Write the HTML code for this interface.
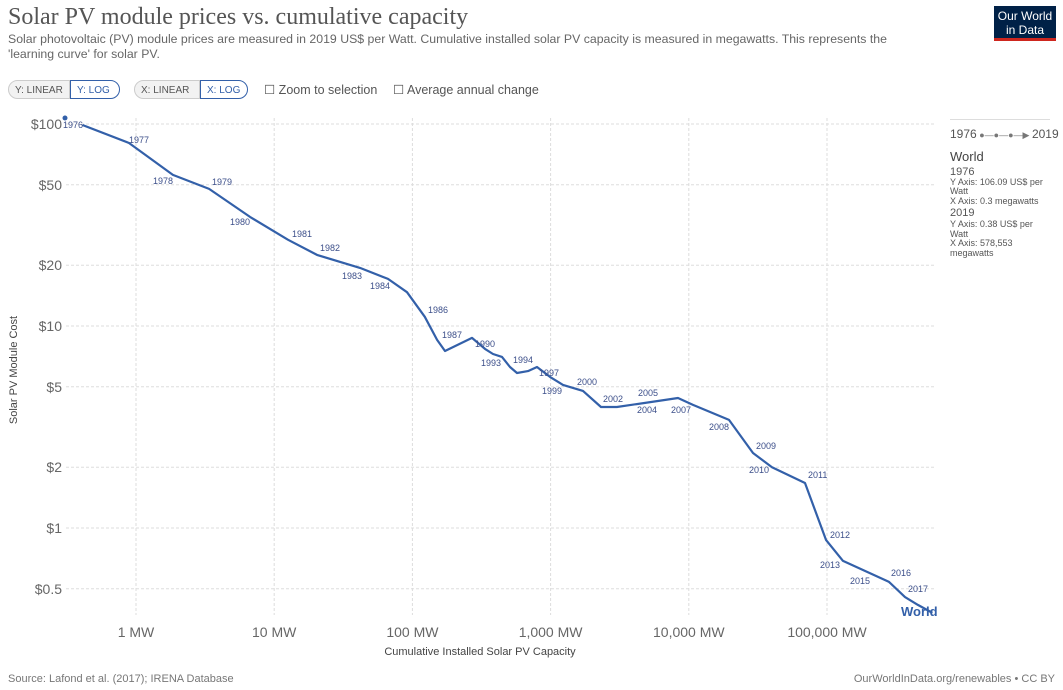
<!DOCTYPE html>
<html><head><meta charset="utf-8"><style>
body{margin:0;width:1063px;height:690px;background:#fff;font-family:"Liberation Sans",sans-serif;position:relative;overflow:hidden}
.a{position:absolute;white-space:nowrap}
.btn{position:absolute;top:80px;height:19px;border:1px solid #ccc;font-size:10px;line-height:19px;color:#555;padding:0 6px;box-sizing:border-box}
.on{border-color:#3360a9;color:#3360a9;background:#fff}
</style></head><body>
<div class="a" style="left:8px;top:4px;font-family:'Liberation Serif',serif;font-size:24px;color:#555">Solar PV module prices vs. cumulative capacity</div>
<div class="a" style="left:8px;top:32px;font-size:12.3px;color:#666;line-height:15px;white-space:normal;width:900px">Solar photovoltaic (PV) module prices are measured in 2019 US$ per Watt. Cumulative installed solar PV capacity is measured in megawatts. This represents the 'learning curve' for solar PV.</div>
<div class="a" style="left:994px;top:6px;width:62px;height:35px;background:#002147;border-bottom:3px solid #ce261e;color:#fff;font-size:12px;text-align:center;line-height:14px;padding-top:3px;box-sizing:border-box">Our World<br>in Data</div>
<div class="btn" style="left:8px;width:62px;border-radius:10px 0 0 10px;background:#f2f2f2">Y: LINEAR</div>
<div class="btn on" style="left:70px;width:50px;border-radius:0 10px 10px 0">Y: LOG</div>
<div class="btn" style="left:134px;width:66px;border-radius:10px 0 0 10px;background:#f2f2f2">X: LINEAR</div>
<div class="btn on" style="left:200px;width:48px;border-radius:0 10px 10px 0">X: LOG</div>
<div class="a" style="left:264px;top:82px;font-size:12.5px;color:#555">☐ Zoom to selection</div>
<div class="a" style="left:393px;top:82px;font-size:12.5px;color:#555">☐ Average annual change</div>
<svg id="c" class="a" style="left:0;top:0" width="1063" height="690"></svg>
<div class="a" style="left:950px;top:119px;width:100px;border-top:1px solid #ddd"></div>
<div class="a" style="left:950px;top:127px;font-size:12px;color:#555">1976<span style="color:#777;font-size:9px"> ●—●—●—▶ </span>2019</div>
<div class="a" style="left:950px;top:149px;font-size:13px;color:#444">World</div>
<div class="a" style="left:950px;top:168px;font-size:9px;color:#555;line-height:9.5px"><span style="font-size:11px">1976</span><br>Y Axis: 106.09 US$ per<br>Watt<br>X Axis: 0.3 megawatts<br><span style="font-size:11px;line-height:14px">2019</span><br>Y Axis: 0.38 US$ per<br>Watt<br>X Axis: 578,553<br>megawatts</div>
<div class="a" style="left:8px;top:673px;font-size:11px;color:#777">Source: Lafond et al. (2017); IRENA Database</div>
<div class="a" style="right:8px;top:673px;font-size:11px;color:#777">OurWorldInData.org/renewables • CC BY</div>
<script>
const capacityMW=[0.41,0.89,1.85,3.38,6.68,12.6,20.4,41.8,66.6,91.4,123,151,172,270,335,383,445,508,571,686,797,990,1230,1715,2315,3020,5890,8350,10720,19540,29150,40000,69300,98400,130600,281000,366700,455000,578553];
const priceUSD=[98.9,80.5,56.0,47.7,34.7,26.7,22.5,19.4,17.1,14.7,11.1,8.53,7.52,8.73,7.70,7.27,7.03,6.27,5.85,5.98,6.27,5.60,5.11,4.77,3.97,3.97,4.25,4.40,4.07,3.43,2.35,2.00,1.67,0.873,0.687,0.541,0.455,0.416,0.38];
const yTicks=[100,50,20,10,5,2,1,0.5];
const yTickLabels=["$100","$50","$20","$10","$5","$2","$1","$0.5"];
const xTicks=[1,10,100,1000,10000,100000];
const xTickLabels=["1 MW","10 MW","100 MW","1,000 MW","10,000 MW","100,000 MW"];
const yearLabels=[["1976",63,128],["1977",129,143],["1978",153,184],["1979",212,185],["1980",230,225],["1981",292,237],["1982",320,251],["1983",342,279],["1984",370,289],["1986",428,313],["1987",442,338],["1990",475,347],["1993",481,366],["1994",513,363],["1997",539,376],["1999",542,394],["2000",577,385],["2002",603,402],["2005",638,396],["2004",637,413],["2007",671,413],["2008",709,430],["2009",756,449],["2010",749,473],["2011",808,478],["2012",830,538],["2013",820,568],["2015",850,584],["2016",891,576],["2017",908,592]];
const X=v=>136+138.2*Math.log10(v);
const Y=v=>326-202*Math.log10(v/10);
const svg=document.getElementById('c');const NS='http://www.w3.org/2000/svg';
function mk(t,a,txt){const e=document.createElementNS(NS,t);for(const k in a)e.setAttribute(k,a[k]);if(txt!=null)e.textContent=txt;svg.appendChild(e);return e;}
yTicks.forEach((v,i)=>{
 const g=mk('line',{x1:66,x2:935,y1:Y(v),y2:Y(v),stroke:'#ddd','stroke-dasharray':'3,2'});
 
 
 const t=mk('text',{x:62,y:Y(v)+5,'text-anchor':'end','font-size':14,fill:'#666','font-family':'Liberation Sans'},yTickLabels[i]);
 
 
});
xTicks.forEach((v,i)=>{
 const g=mk('line',{x1:X(v),x2:X(v),y1:118,y2:615,stroke:'#ddd','stroke-dasharray':'3,2'});
 
 
 const t=mk('text',{x:X(v),y:637,'text-anchor':'middle','font-size':14,fill:'#666','font-family':'Liberation Sans'},xTickLabels[i]);
 
 
});
const yt=mk('text',{transform:'translate(17,370) rotate(-90)','text-anchor':'middle','font-size':11,fill:'#444','font-family':'Liberation Sans'},'Solar PV Module Cost');


const xt=mk('text',{x:480,y:655,'text-anchor':'middle','font-size':11,fill:'#444','font-family':'Liberation Sans'},'Cumulative Installed Solar PV Capacity');


const pts=capacityMW.map((c,i)=>X(c).toFixed(1)+','+Y(priceUSD[i]).toFixed(1)).join(' ');
const line=mk('polyline',{points:pts,fill:'none',stroke:'#3360a9','stroke-width':2.2,'stroke-linejoin':'round'});


yearLabels.forEach(l=>{
 const t=mk('text',{x:l[1],y:l[2],'font-size':9,fill:'#3c4f8a','font-family':'Liberation Sans'},l[0]);
 
 
});
const wl=mk('text',{x:901,y:616,'font-size':13,'font-weight':'bold',fill:'#3360a9','font-family':'Liberation Sans'},'World');


const d=mk('circle',{cx:65,cy:118,r:2.5,fill:'#3360a9'});


</script>
</body></html>
